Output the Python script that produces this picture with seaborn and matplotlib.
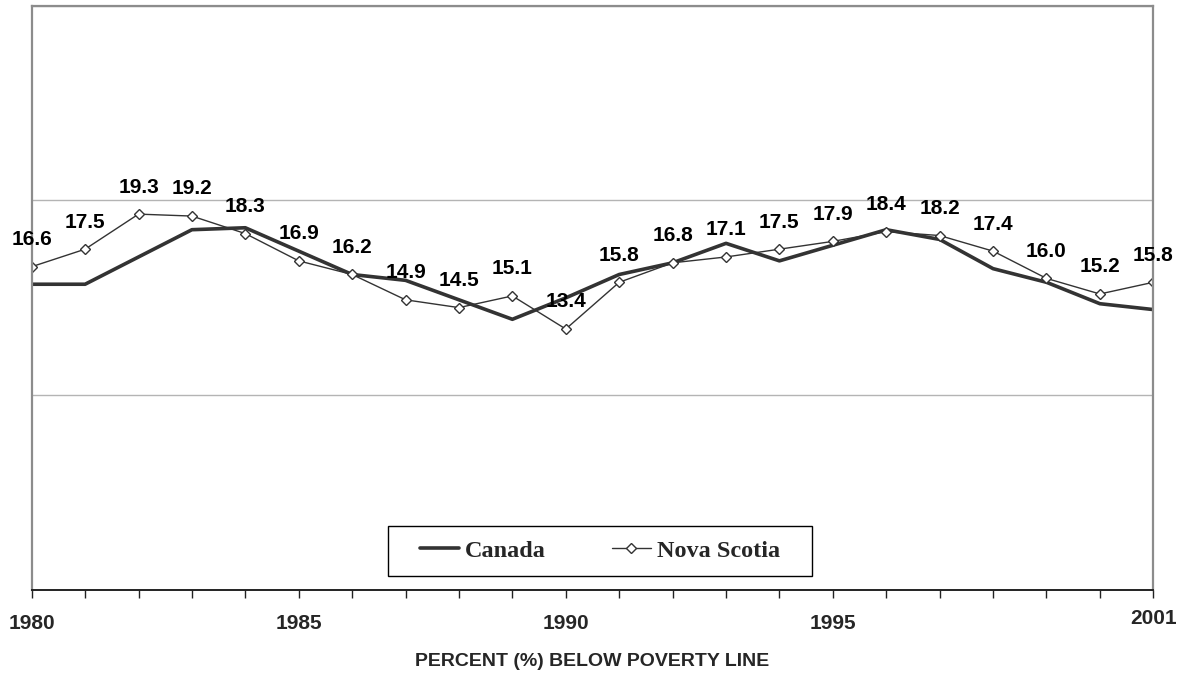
import matplotlib
matplotlib.use("Agg")
import matplotlib.pyplot as plt
import matplotlib.transforms as mtransforms
from matplotlib.patches import Rectangle
import numpy as np
import pandas as pd
import seaborn as sns

years = list(range(1980, 2002))
canada = [15.7, 15.7, 17.1, 18.5, 18.6, 17.4, 16.2, 15.9, 14.9, 13.9, 15.0,
          16.2, 16.8, 17.8, 16.9, 17.7, 18.5, 18.0, 16.5, 15.8, 14.7, 14.4]
nova_scotia = [16.6, 17.5, 19.3, 19.2, 18.3, 16.9, 16.2, 14.9, 14.5, 15.1, 13.4,
               15.8, 16.8, 17.1, 17.5, 17.9, 18.4, 18.2, 17.4, 16.0, 15.2, 15.8]
shown_years = [1980, 1985, 1990, 1995, 2001]
xlabel = "PERCENT (%) BELOW POVERTY LINE"

df = pd.DataFrame({"year": years, "Canada": canada, "Nova Scotia": nova_scotia})

sns.set_style("white")
plt.rcParams["font.family"] = ["Liberation Sans", "DejaVu Sans"]

fig = plt.figure(figsize=(11.87, 6.73), dpi=100)
ax = fig.add_axes([0.0267, 0.1233, 0.9449, 0.8682])

line_col = "#333333"
sns.lineplot(data=df, x="year", y="Canada", color=line_col, linewidth=2.6,
             label="Canada", ax=ax)
sns.lineplot(data=df, x="year", y="Nova Scotia", color=line_col, linewidth=1.0,
             marker="D", markersize=5.5, markerfacecolor="white",
             markeredgecolor=line_col, markeredgewidth=1.0,
             label="Nova Scotia", ax=ax)

# value labels for Nova Scotia
for yr, v in zip(years, nova_scotia):
    ax.annotate(f"{v:.1f}", (yr, v), xytext=(0, 19.5), textcoords="offset points",
                ha="center", va="center", fontsize=15, fontweight="bold",
                color="black")

ax.set_xlim(1980, 2001)
ax.set_ylim(0, 30)
ax.set_yticks([10, 20, 30])
ax.yaxis.grid(True, color="#b4b4b4", linewidth=1.0)
ax.tick_params(axis="y", left=False, labelleft=False)

ax.set_xticks(years)
ax.set_xticklabels([str(y) if y in shown_years else "" for y in years],
                   fontsize=15, fontweight="bold")
ax.tick_params(axis="x", direction="out", length=6, width=1.0, color="#222222",
               bottom=True, pad=11.5)
# 2001 label sits a bit higher
lab = ax.get_xticklabels()[-1]
lab.set_transform(lab.get_transform() +
                  mtransforms.ScaledTranslation(0, 4 / 72, fig.dpi_scale_trans))

ax.set_xlabel(xlabel, fontsize=14, fontweight="bold", labelpad=14)
ax.set_ylabel("")

for side in ["left", "right", "top"]:
    ax.spines[side].set_color("#8c8c8c")
    ax.spines[side].set_linewidth(1.6)
ax.spines["bottom"].set_color("#222222")
ax.spines["bottom"].set_linewidth(1.4)

leg = ax.legend(loc="center", bbox_to_anchor=(0.5067, 0.0673), ncol=2,
                frameon=False, handlelength=1.6, handletextpad=0.25,
                columnspacing=2.7,
                prop={"family": "Liberation Serif", "weight": "bold", "size": 17.5})
ax.add_patch(Rectangle((0.3177, 0.0245), 0.3777, 0.0855, transform=ax.transAxes,
                       fill=False, edgecolor="black", linewidth=1.0, zorder=5))

fig.savefig("out.png", dpi=100)
